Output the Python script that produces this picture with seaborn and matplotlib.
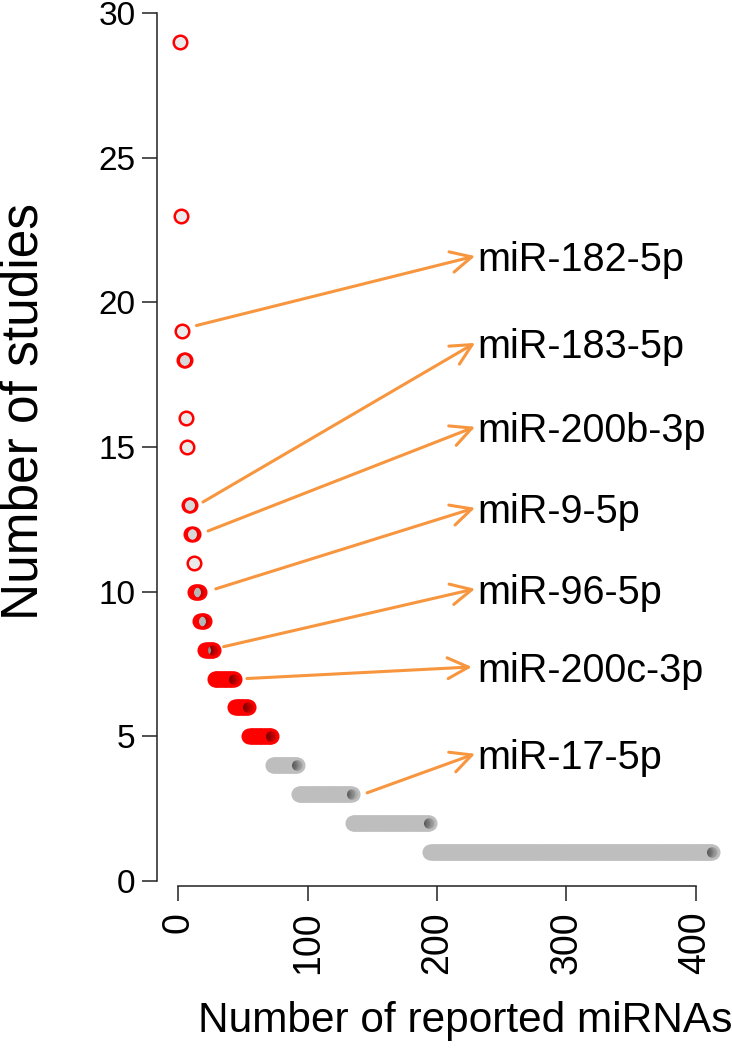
import numpy as np
import pandas as pd
import matplotlib
matplotlib.use("Agg")
import matplotlib.pyplot as plt
import seaborn as sns

# ===================== DATA =====================
# number of studies that report a miRNA, and how many miRNAs share that count
study_levels = [29, 23, 19, 18, 16, 15, 13, 12, 11, 10, 9, 8, 7, 6, 5, 4, 3, 2, 1]
mirnas_per_level = [1, 1, 1, 2, 1, 1, 2, 2, 1, 4, 4, 7, 16, 11, 18, 20, 42, 60, 219]

# highlighted miRNAs (arrow from point area to label)
labels = ["miR-182-5p", "miR-183-5p", "miR-200b-3p", "miR-9-5p",
          "miR-96-5p", "miR-200c-3p", "miR-17-5p"]
tail_x = [14, 19, 23, 29, 35, 53, 146]
tail_y = [19.2, 13.1, 12.1, 10.1, 8.1, 7.0, 3.05]
head_x = [229.5, 229.5, 229.5, 229.5, 229.5, 227, 229.5]
head_y = [21.6, 18.6, 15.7, 12.9, 10.1, 7.4, 4.4]

x_ticks = [0, 100, 200, 300, 400]
y_ticks = [0, 5, 10, 15, 20, 25, 30]

# ranked table: one row per miRNA
studies = np.repeat(study_levels, mirnas_per_level)
df = pd.DataFrame({"rank": np.arange(1, len(studies) + 1), "studies": studies})
high = df[df["studies"] >= 5]
low = df[df["studies"] <= 4]

# ===================== PLOT =====================
sns.set_style("ticks")
plt.rcParams["font.family"] = ["Liberation Sans", "DejaVu Sans"]

fig = plt.figure(figsize=(7.32, 10.5), dpi=100)
ax = fig.add_axes([157 / 732, 1 - 886 / 1050, 575 / 732, 886 / 1050])

fill = (0, 0, 0, 0.08)
sns.scatterplot(data=high, x="rank", y="studies", color=fill, edgecolor="red",
                linewidth=1.8, s=95, ax=ax, legend=False, zorder=3, clip_on=False)
sns.scatterplot(data=low, x="rank", y="studies", color=fill, edgecolor="#bebebe",
                linewidth=1.8, s=95, ax=ax, legend=False, zorder=3, clip_on=False)

orange = "#F7963F"
for lab, tx, ty, hx, hy in zip(labels, tail_x, tail_y, head_x, head_y):
    ax.annotate("", xy=(hx, hy), xytext=(tx, ty),
                arrowprops=dict(arrowstyle="->,head_length=0.6,head_width=0.3",
                                color=orange, lw=2.2, mutation_scale=25,
                                shrinkA=0, shrinkB=0))
    ax.text(231, hy - 0.15, lab, fontsize=28.5, va="center", ha="left", color="black")

ax.set_xlim(-16.5, 428.2)
ax.set_ylim(-0.17, 30.45)
ax.set_xticks(x_ticks)
ax.set_yticks(y_ticks)
ax.set_xticklabels([str(t) for t in x_ticks])
ax.set_yticklabels([str(t) for t in y_ticks])

sns.despine(ax=ax)
ax.spines["left"].set_bounds(0, 30)
ax.spines["bottom"].set_bounds(0, 400)
for side in ["left", "bottom"]:
    ax.spines[side].set_color("#222222")
    ax.spines[side].set_linewidth(1.1)

ax.tick_params(axis="both", length=10.5, width=1.1, color="#222222", labelcolor="black")
ax.tick_params(axis="y", labelsize=24, pad=5)
ax.tick_params(axis="x", labelsize=27, pad=8, labelrotation=90)

ax.set_xlabel("Number of reported miRNAs", fontsize=30.5, color="black")
ax.xaxis.label.set_va("center")
ax.xaxis.set_label_coords(0.536, -0.152)
ax.set_ylabel("Number of studies", fontsize=37, color="black")
ax.yaxis.label.set_va("center")
ax.yaxis.set_label_coords(-0.232, 0.536)

fig.savefig("out.png", dpi=100)
